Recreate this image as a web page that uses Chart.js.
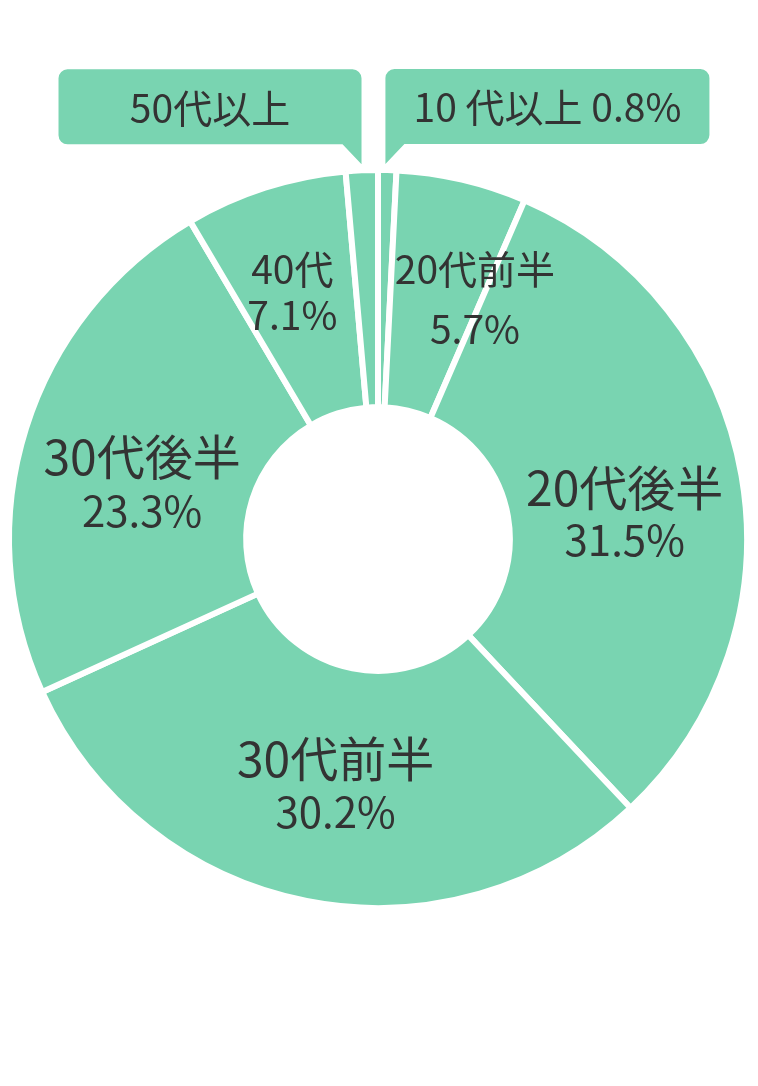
<!DOCTYPE html>
<html lang="ja">
<head>
<meta charset="utf-8">
<title>年代別構成比</title>
<script src="https://cdn.jsdelivr.net/npm/chart.js@4.4.1/dist/chart.umd.min.js"></script>
<style>
  html, body { margin: 0; padding: 0; background: #fff; }
  canvas { display: block; }
</style>
</head>
<body>
<canvas id="myChart" width="758" height="1086"></canvas>
<script>
// data, clockwise from 12 o'clock
const ages = ["10代以上", "20代前半", "20代後半", "30代前半", "30代後半", "40代", "50代以上"];
const shares = [0.8, 5.7, 31.5, 30.2, 23.3, 7.1, 1.4];
// which slices get a callout box above the ring instead of an inside label
const calloutText = ["10 代以上 0.8%", null, null, null, null, null, "50代以上"];

const GREEN = "#79d4b1";
const INK = "#333333";
const FONT = '"Noto Sans CJK JP", "Noto Sans", sans-serif';

// inside label layout: [nameSize, pctSize, lineGap, dx, dy] relative to the arc centre point
const insideLayout = {
  1: [39, 39, 60, 40, 4],
  2: [48, 42, 52, 0, 18],
  3: [48, 42, 53, 6, 1],
  4: [48, 42, 55, 3, 20],
  5: [39, 39, 46, -9, -8],
};

function roundRectTail(ctx, x, y, w, h, r, tailSide, tailH, tailW) {
  ctx.beginPath();
  ctx.moveTo(x + r, y);
  ctx.lineTo(x + w - r, y);
  ctx.arcTo(x + w, y, x + w, y + r, r);
  if (tailSide === "right") {
    ctx.lineTo(x + w, y + h + tailH);
    ctx.lineTo(x + w - tailW, y + h);
    ctx.lineTo(x + r, y + h);
    ctx.arcTo(x, y + h, x, y + h - r, r);
  } else {
    ctx.lineTo(x + w, y + h - r);
    ctx.arcTo(x + w, y + h, x + w - r, y + h, r);
    ctx.lineTo(x + tailW, y + h);
    ctx.lineTo(x, y + h + tailH);
  }
  ctx.lineTo(x, y + r);
  ctx.arcTo(x, y, x + r, y, r);
  ctx.closePath();
}

const labelPlugin = {
  id: "ageLabels",
  afterDatasetsDraw(chart) {
    const ctx = chart.ctx;
    const arcs = chart.getDatasetMeta(0).data;
    ctx.save();
    ctx.fillStyle = INK;
    ctx.textAlign = "center";
    ctx.textBaseline = "middle";

    arcs.forEach((arc, i) => {
      const lay = insideLayout[i];
      if (!lay) return;
      const p = arc.tooltipPosition();
      const [s1, s2, gap, dx, dy] = lay;
      const cx = p.x + dx, cy = p.y + dy;
      ctx.font = `400 ${s1}px ${FONT}`;
      ctx.fillText(ages[i], cx, cy - gap / 2);
      ctx.font = `400 ${s2}px ${FONT}`;
      ctx.fillText(shares[i].toFixed(1) + "%", cx, cy + gap / 2);
    });

    // callout boxes, tail tip just above the slice's outer edge
    arcs.forEach((arc, i) => {
      if (!calloutText[i]) return;
      const mid = (arc.startAngle + arc.endAngle) / 2;
      const tipR = arc.outerRadius + 6;
      const tipX = arc.x + Math.cos(mid) * tipR;
      const tipY = arc.y + Math.sin(mid) * tipR;
      const h = 75, w = i === 0 ? 324 : 303, tailH = 20, tailW = 19;
      const top = tipY - tailH - h;
      const left = i === 0 ? tipX - 2 : tipX - w;
      ctx.fillStyle = GREEN;
      roundRectTail(ctx, left, top, w, h, 9, i === 0 ? "left" : "right", tailH, tailW);
      ctx.fill();
      ctx.fillStyle = INK;
      ctx.font = `400 39px ${FONT}`;
      ctx.fillText(calloutText[i], left + w / 2, top + h / 2 + 1);
    });
    ctx.restore();
  },
};

const ctx = document.getElementById("myChart");
new Chart(ctx, {
  type: "doughnut",
  data: {
    labels: ages,
    datasets: [{
      data: shares,
      backgroundColor: GREEN,
      borderColor: "#ffffff",
      borderWidth: 6,
      hoverOffset: 0,
    }],
  },
  options: {
    responsive: false,
    animation: false,
    rotation: 0,
    radius: 369,
    cutout: 134,
    layout: {
      padding: { top: 0, bottom: 8, left: 0, right: 2 },
    },
    plugins: {
      legend: { display: false },
      tooltip: { enabled: false },
    },
  },
  plugins: [labelPlugin],
});
</script>
</body>
</html>
